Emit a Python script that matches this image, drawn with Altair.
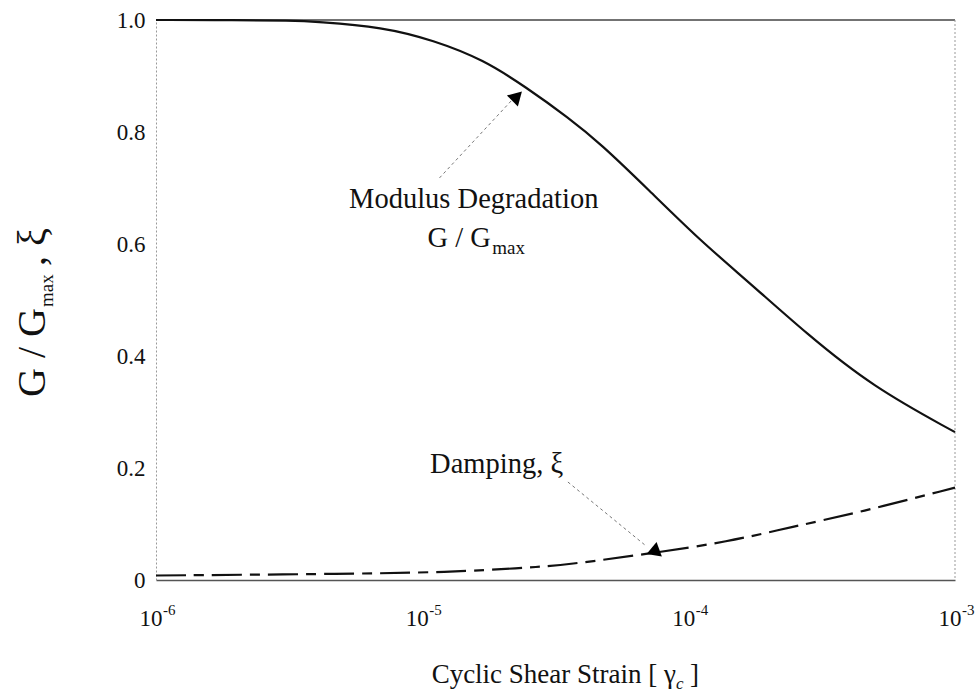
import altair as alt
import pandas as pd

# ---- data ----
strain_g = [1.0e-6, 2.0e-6, 3.2e-6, 4.0e-6, 7.1e-6, 1.1e-5, 1.7e-5, 2.45e-5, 3.55e-5,
            4.65e-5, 7.1e-5, 1.1e-4, 1.7e-4, 2.75e-4, 4.9e-4, 1.0e-3]
g_ratio = [1.0, 1.0, 0.999, 0.997, 0.9875, 0.964, 0.929, 0.880, 0.825,
           0.780, 0.696, 0.607, 0.530, 0.441, 0.345, 0.264]

strain_d = [1.0e-6, 5.4e-6, 1.26e-5, 2.3e-5, 3.5e-5, 7.3e-5, 1.4e-4, 2.45e-4, 4.4e-4, 1.0e-3]
damping = [0.008, 0.011, 0.014, 0.021, 0.027, 0.048, 0.068, 0.095, 0.121, 0.165]

x_ticks = [1e-6, 1e-5, 1e-4, 1e-3]
x_tick_base = ["10", "10", "10", "10"]
x_tick_exp = ["-6", "-5", "-4", "-3"]
y_ticks = [0, 0.2, 0.4, 0.6, 0.8, 1.0]

# annotations (data coordinates)
ctr_text = ["Modulus Degradation", "Damping, ξ"]
ctr_x = [1.56e-5, 1.9e-5]
ctr_y = [0.664, 0.191]
gg_text = ["G / G"]
gg_x = [1.81e-5]
gg_y = [0.595]
sub_text = ["max"]
sub_x = [1.83e-5]
sub_y = [0.595]
lead_x = [1.16e-5, 3.52e-5]
lead_y = [0.718, 0.175]
lead_x2 = [2.17e-5, 6.85e-5]
lead_y2 = [0.857, 0.0625]
arrow_x = [2.27e-5, 7.5e-5]
arrow_y = [0.864, 0.056]
arrow_angle = [45, 10]

W, H = 799, 560
SERIF = "Liberation Serif"

df_g = pd.DataFrame({"strain": strain_g, "val": g_ratio})
df_d = pd.DataFrame({"strain": strain_d, "val": damping})
df_ticks = pd.DataFrame({"strain": x_ticks, "base": x_tick_base, "exp": x_tick_exp})
df_ctr = pd.DataFrame({"strain": ctr_x, "val": ctr_y, "t": ctr_text})
df_gg = pd.DataFrame({"strain": gg_x, "val": gg_y, "t": gg_text})
df_sub = pd.DataFrame({"strain": sub_x, "val": sub_y, "t": sub_text})
df_lead = pd.DataFrame({"strain": lead_x, "val": lead_y, "strain2": lead_x2, "val2": lead_y2})
df_arrow = pd.DataFrame({"strain": arrow_x, "val": arrow_y, "ang": arrow_angle})
df_one = pd.DataFrame({"k": [0]})

xscale = alt.Scale(type="log", domain=[1e-6, 1e-3])
yscale = alt.Scale(domain=[0, 1])

X = alt.X("strain:Q", scale=xscale,
          axis=alt.Axis(values=x_ticks, labels=False, ticks=False, title=None,
                        grid=False, domainColor="#555", domainWidth=1.5))
Y = alt.Y("val:Q", scale=yscale,
          axis=alt.Axis(values=y_ticks, title=None, grid=False, ticks=False,
                        labelExpr="datum.value == 0 ? '0' : format(datum.value, '.1f')",
                        labelFont=SERIF, labelFontSize=23, labelColor="#111",
                        labelPadding=11, domainColor="#999", domainDash=[2, 2],
                        domainWidth=1))

g_line = alt.Chart(df_g).mark_line(color="#111", strokeWidth=2.2, interpolate="basis").encode(x=X, y=Y)
d_line = alt.Chart(df_d).mark_line(color="#111", strokeWidth=2.2, interpolate="basis",
                                   strokeDash=[30, 8, 10, 8]).encode(x="strain:Q", y="val:Q")

top_rule = alt.Chart(df_one).mark_rule(color="#444", strokeWidth=1.5).encode(
    x=alt.value(0), x2=alt.value(W), y=alt.value(0))
right_rule = alt.Chart(df_one).mark_rule(color="#999", strokeWidth=1, strokeDash=[2, 2]).encode(
    x=alt.value(W), y=alt.value(0), y2=alt.value(H))

tick_base = alt.Chart(df_ticks).mark_text(font=SERIF, fontSize=23, color="#111",
                                          align="center", baseline="alphabetic", dx=-5).encode(
    x="strain:Q", y=alt.value(H + 46), text="base:N")
tick_exp = alt.Chart(df_ticks).mark_text(font=SERIF, fontSize=15, color="#111",
                                         align="left", baseline="alphabetic", dx=7, dy=-11).encode(
    x="strain:Q", y=alt.value(H + 46), text="exp:N")

ann_c = alt.Chart(df_ctr).mark_text(font=SERIF, fontSize=28.5, color="#111",
                                    align="center", baseline="alphabetic").encode(
    x="strain:Q", y="val:Q", text="t:N")
ann_gg = alt.Chart(df_gg).mark_text(font=SERIF, fontSize=28.5, color="#111",
                                    align="right", baseline="alphabetic").encode(
    x="strain:Q", y="val:Q", text="t:N")
ann_sub = alt.Chart(df_sub).mark_text(font=SERIF, fontSize=19, color="#111",
                                      align="left", baseline="alphabetic", dy=7).encode(
    x="strain:Q", y="val:Q", text="t:N")

leads = alt.Chart(df_lead).mark_rule(color="#777", strokeWidth=1, strokeDash=[3, 3]).encode(
    x="strain:Q", y="val:Q", x2="strain2:Q", y2="val2:Q")
arrows = alt.Chart(df_arrow).mark_point(shape="triangle-up", filled=True, color="#000",
                                        size=240, opacity=1).encode(
    x="strain:Q", y="val:Q", angle=alt.Angle("ang:Q", scale=None))

# axis titles (text with sub-scripts)
YT_X, YT_Y = -111, 377
ytitle = [
    alt.Chart(df_one).mark_text(text="G / G", font=SERIF, fontSize=40, angle=270,
                                align="left", baseline="alphabetic", color="#111").encode(
        x=alt.value(YT_X), y=alt.value(YT_Y)),
    alt.Chart(df_one).mark_text(text="max", font=SERIF, fontSize=19, angle=270,
                                align="left", baseline="alphabetic", color="#111",
                                dx=90, dy=8).encode(
        x=alt.value(YT_X), y=alt.value(YT_Y)),
    alt.Chart(df_one).mark_text(text=",  ξ", font=SERIF, fontSize=40, angle=270,
                                align="left", baseline="alphabetic", color="#111",
                                dx=131).encode(
        x=alt.value(YT_X), y=alt.value(YT_Y)),
]
XT_X, XT_Y = 520, H + 103
xtitle = [
    alt.Chart(df_one).mark_text(text="Cyclic Shear Strain  [ γ", font=SERIF, fontSize=27,
                                align="right", baseline="alphabetic", color="#111").encode(
        x=alt.value(XT_X), y=alt.value(XT_Y)),
    alt.Chart(df_one).mark_text(text="c", font=SERIF, fontSize=17, fontStyle="italic",
                                align="left", baseline="alphabetic", color="#111",
                                dx=0, dy=6).encode(
        x=alt.value(XT_X), y=alt.value(XT_Y)),
    alt.Chart(df_one).mark_text(text="]", font=SERIF, fontSize=27,
                                align="left", baseline="alphabetic", color="#111",
                                dx=14).encode(
        x=alt.value(XT_X), y=alt.value(XT_Y)),
]

chart = alt.layer(
    top_rule, right_rule, g_line, d_line, leads, arrows, ann_c, ann_gg, ann_sub,
    tick_base, tick_exp, *ytitle, *xtitle
).properties(
    width=W, height=H,
    autosize=alt.AutoSizeParams(type="none"),
    padding={"left": 156, "top": 20, "right": 23, "bottom": 114},
    background="white",
).configure_view(stroke=None)

chart.save("out.html", embed_options={"renderer": "svg", "actions": False})
